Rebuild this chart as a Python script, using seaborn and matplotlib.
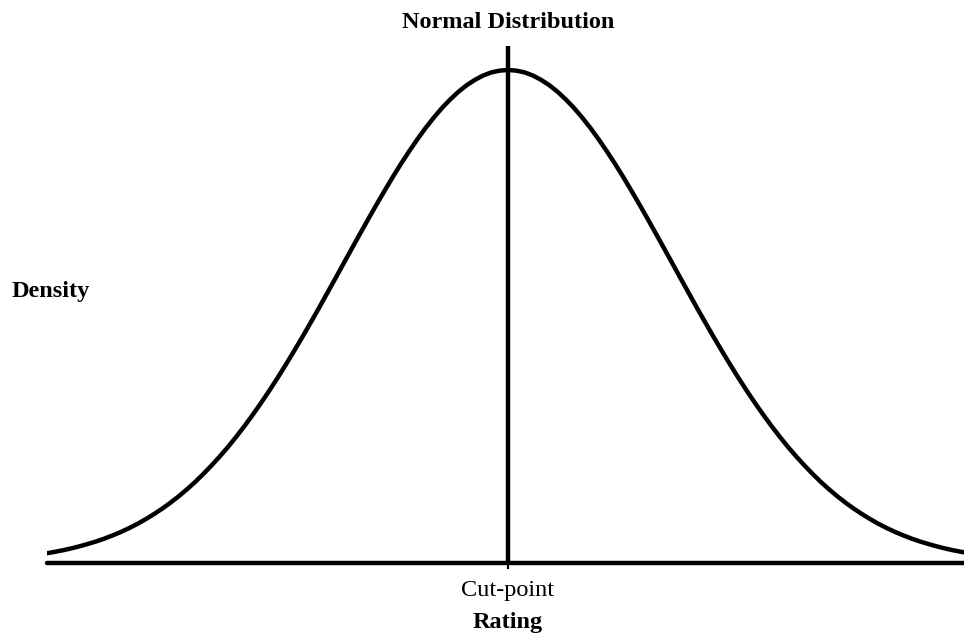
import numpy as np
import pandas as pd
import matplotlib
matplotlib.use("Agg")
import matplotlib.pyplot as plt
import seaborn as sns

# Half-curve (standardised rating, density), 0 .. 2.8
z_half = [0.00, 0.05, 0.10, 0.15, 0.20, 0.25, 0.30, 0.35, 0.40, 0.45,
          0.50, 0.55, 0.60, 0.65, 0.70, 0.75, 0.80, 0.85, 0.90, 0.95,
          1.00, 1.05, 1.10, 1.15, 1.20, 1.25, 1.30, 1.35, 1.40, 1.45,
          1.50, 1.55, 1.60, 1.65, 1.70, 1.75, 1.80, 1.85, 1.90, 1.95,
          2.00, 2.05, 2.10, 2.15, 2.20, 2.25, 2.30, 2.35, 2.40, 2.45,
          2.50, 2.55, 2.60, 2.65, 2.70, 2.75, 2.80]
density_half = [0.3989, 0.3984, 0.3970, 0.3945, 0.3910, 0.3867, 0.3814, 0.3752, 0.3683, 0.3605,
                0.3521, 0.3429, 0.3332, 0.3230, 0.3123, 0.3011, 0.2897, 0.2780, 0.2661, 0.2541,
                0.2420, 0.2299, 0.2179, 0.2059, 0.1942, 0.1826, 0.1714, 0.1604, 0.1497, 0.1394,
                0.1295, 0.1200, 0.1109, 0.1023, 0.0940, 0.0863, 0.0790, 0.0721, 0.0656, 0.0596,
                0.0540, 0.0488, 0.0440, 0.0396, 0.0355, 0.0317, 0.0283, 0.0252, 0.0224, 0.0198,
                0.0175, 0.0155, 0.0136, 0.0119, 0.0104, 0.0091, 0.0079]
cut_point = 0.0
tick_labels = ["Cut-point"]
title = "Normal Distribution"
x_label = "Rating"
y_label = "Density"

rating = [-v for v in z_half[:0:-1]] + z_half
density = density_half[:0:-1] + density_half
df = pd.DataFrame({"rating": rating, "density": density})

sns.set_theme(style="white")
plt.rcParams["font.family"] = ["Liberation Serif", "DejaVu Serif"]
plt.rcParams["text.color"] = "black"
plt.rcParams["xtick.color"] = "black"
plt.rcParams["axes.labelcolor"] = "black"

W, H = 964, 637
fig = plt.figure(figsize=(W / 100, H / 100), dpi=100)
left, right, top, bottom = 47, 969, 46, 563
ax = fig.add_axes([left / W, (H - bottom) / H, (right - left) / W, (bottom - top) / H])

lw = 3.2
fs = 17.5
sns.lineplot(data=df, x="rating", y="density", ax=ax, color="black", lw=lw,
             sort=False, estimator=None)
ax.lines[-1].set_solid_capstyle("round")
ax.axhline(0, color="black", lw=lw, solid_capstyle="round", zorder=3, clip_on=False)
ax.axvline(cut_point, color="black", lw=lw, zorder=3)

ax.set_xlim(min(rating), max(rating))
ax.set_ylim(0, max(density) * 517 / 493)
for s in ax.spines.values():
    s.set_visible(False)

ax.set_xticks([cut_point])
ax.set_xticklabels(tick_labels, fontsize=fs, color="black")
ax.tick_params(axis="x", length=4, width=1.5, color="black", pad=8, bottom=True)
ax.set_yticks([])

ax.set_title(title, fontsize=fs, fontweight="bold", pad=13, color="black")
ax.set_xlabel(x_label, fontsize=fs, fontweight="bold", labelpad=8.2, color="black")
ax.set_ylabel(y_label, fontsize=fs, fontweight="bold", rotation=0, ha="left",
              va="center", color="black")
ax.yaxis.set_label_coords((12 - left) / (right - left), (bottom - 291) / (bottom - top))

fig.savefig("out.png", dpi=100, facecolor="white")
